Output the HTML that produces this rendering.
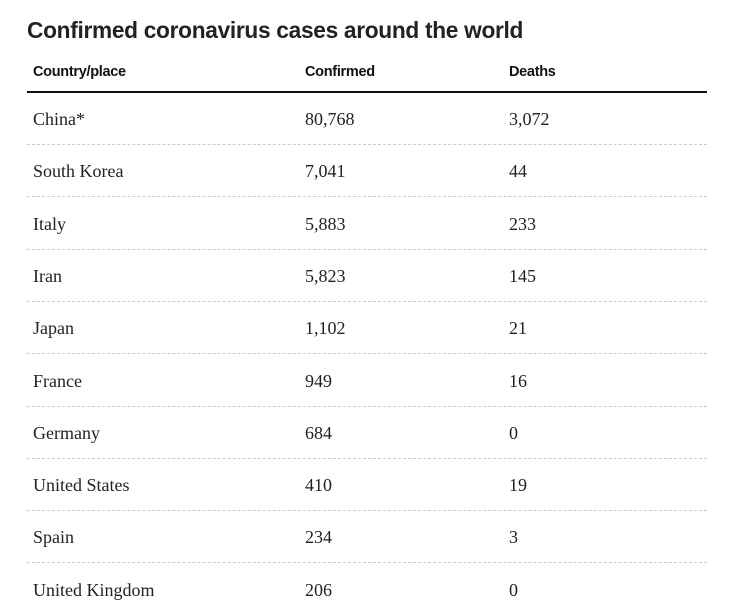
<!DOCTYPE html>
<html><head><meta charset="utf-8"><style>
body{margin:0;width:735px;height:614px;background:#fff;position:relative;overflow:hidden;color:#222}
.t{position:absolute;left:27px;top:17px;font:bold 22.7px "Liberation Sans",sans-serif;letter-spacing:-0.3px;white-space:nowrap;color:#222}
.h{position:absolute;top:64px;font:bold 14.5px "Liberation Sans",sans-serif;letter-spacing:-0.3px;color:#111}
.rule{position:absolute;left:27px;width:680px;top:91px;height:2px;background:#111}
.c{position:absolute;font:18px "Liberation Serif",serif;color:#222;white-space:nowrap}
.d{position:absolute;left:27px;width:680px;height:0;border-top:1px dashed #ccc}
</style></head><body>
<div class="t">Confirmed coronavirus cases around the world</div>
<div class="h" style="left:33px">Country/place</div>
<div class="h" style="left:305px">Confirmed</div>
<div class="h" style="left:509px">Deaths</div>
<div class="rule"></div>
<script>
const countries=["China*","South Korea","Italy","Iran","Japan","France","Germany","United States","Spain","United Kingdom"];
const confirmed=["80,768","7,041","5,883","5,823","1,102","949","684","410","234","206"];
const deaths=["3,072","44","233","145","21","16","0","19","3","0"];
const root=document.body;
for(let i=0;i<countries.length;i++){
  const y=109+i*52.3;
  const cols=[[33,countries[i],'country'],[305,confirmed[i],'confirmed'],[509,deaths[i],'deaths']];
  for(const [x,txt,nm] of cols){
    const el=document.createElement('div');
    el.className='c';el.style.left=x+'px';el.style.top=y+'px';el.textContent=txt;
    
    
    root.appendChild(el);
  }
  if(i<countries.length-1){
    const d=document.createElement('div');
    d.className='d';d.style.top=(144+i*52.3)+'px';
    
    
    root.appendChild(d);
  }
}
</script>
</body></html>
